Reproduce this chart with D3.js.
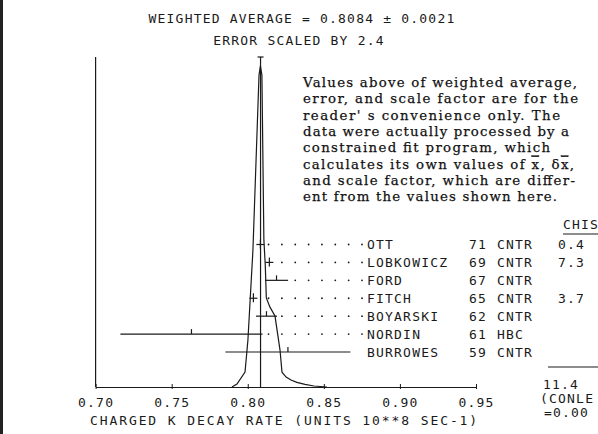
<!DOCTYPE html>
<html><head><meta charset="utf-8">
<script src="https://cdn.jsdelivr.net/npm/d3@7"></script>
<style>
html,body{margin:0;padding:0;background:#fff;}
svg{display:block;}
.mono{font-family:"DejaVu Sans Mono",monospace;font-size:13px;fill:#1a1a1a;letter-spacing:1.2px;}
.serif{font-family:"DejaVu Serif",serif;font-size:13.3px;fill:#111;stroke:#111;stroke-width:0.25px;}
</style></head><body>
<svg id="c" width="598" height="434"></svg>
<script>
// ---- data ----
const experiments = ["OTT","LOBKOWICZ","FORD","FITCH","BOYARSKI","NORDIN","BURROWES"];
const years = ["71","69","67","65","62","61","59"];
const techniques = ["CNTR","CNTR","CNTR","CNTR","CNTR","HBC","CNTR"];
const values = [0.8083,0.8142,0.8189,0.8037,0.8123,0.7630,0.8264];
const errors = [0.0018,0.0024,0.0076,0.0026,0.0069,0.0467,0.0411];
const chisq = ["0.4","7.3","","3.7","","",""];
const chisqTotal = "11.4";
const tickValues = [0.70,0.75,0.80,0.85,0.90,0.95];
const tickLabels = ["0.70","0.75","0.80","0.85","0.90","0.95"];
const weightedAverage = 0.8084;
// ideogram outline: x value, relative height
const ideoX = [0.7896,0.7929,0.7982,0.8001,0.8034,0.8074,0.8083,0.8093,0.8106,0.8115,0.8122,0.8146,0.8179,0.8212,0.8225,0.8252,0.8284,0.8323,0.8376,0.8435,0.8520];
const ideoH = [0,0.009,0.045,0.142,0.415,0.945,0.973,0.945,0.445,0.370,0.27,0.242,0.215,0.112,0.045,0.030,0.021,0.014,0.008,0.003,0];
const titleLines = ["WEIGHTED AVERAGE = 0.8084 \u00b1 0.0021","ERROR SCALED BY 2.4"];
const axisTitle = "CHARGED K DECAY RATE (UNITS 10**8 SEC-1)";
const noteLines = [
 "Values above of weighted average,",
 "error, and scale factor are for the",
 "reader' s convenience only.  The",
 "data were actually processed by a",
 "constrained fit program,  which",
 "CALC",
 "and scale factor, which are differ-",
 "ent from the values shown here."
];
const noteEnds = [577,578,560,569,550,574,575,557];

// ---- drawing ----
const svg = d3.select("#c");
const ink = "#1a1a1a";
svg.append("rect").attr("x",0).attr("y",0).attr("width",3).attr("height",434).attr("fill","#222");

const x = d3.scaleLinear().domain([0.70,0.95]).range([95.6,476]);
const yIdeo = d3.scaleLinear().domain([0,1]).range([387,57]);
const yRow = d3.scalePoint().domain(experiments).range([244.5,352]);
const axisY = 387;

// titles
svg.append("text").attr("class","mono").attr("x",302).attr("y",23).attr("text-anchor","middle").text(titleLines[0]);
svg.append("text").attr("class","mono").attr("x",299).attr("y",45).attr("text-anchor","middle").text(titleLines[1]);

// note paragraph
const noteX = 303;
noteLines.forEach((t,i)=>{
  const el = svg.append("text").attr("class","serif").attr("x",noteX).attr("y",87+i*16.3)
    .attr("textLength",noteEnds[i]-noteX).attr("lengthAdjust","spacing");
  if(t==="CALC"){
    el.append("tspan").text("calculates its own values of ");
    el.append("tspan").style("text-decoration","overline").text("x");
    el.append("tspan").text(", \u03b4");
    el.append("tspan").style("text-decoration","overline").text("x");
    el.append("tspan").text(",");
  } else el.text(t);
});

// left frame line
svg.append("line").attr("x1",x(0.70)).attr("x2",x(0.70)).attr("y1",yIdeo(1)).attr("y2",axisY).attr("stroke",ink).attr("stroke-width",1.2);

// axis
const axis = d3.axisBottom(x).tickValues(tickValues).tickFormat((d,i)=>tickLabels[i]).tickSizeOuter(0);
const gA = svg.append("g").attr("transform",`translate(0,${axisY})`).call(axis);
gA.select(".domain").attr("stroke",ink).attr("stroke-width",1.1);
gA.selectAll(".tick line").attr("y1",-3).attr("y2",2).attr("stroke",ink);
gA.selectAll(".tick text").attr("class","mono").attr("y",20).attr("dy",0).style("font-size","13px").attr("font-family",null).attr("fill",ink);
svg.append("text").attr("class","mono").attr("x",90).attr("y",425).style("letter-spacing","1.9px").text(axisTitle);

// ideogram
const line = d3.line().x(d=>x(d[0])).y(d=>yIdeo(d[1]));
svg.append("path").datum(ideoX.map((v,i)=>[v,ideoH[i]])).attr("d",line)
  .attr("fill","none").attr("stroke",ink).attr("stroke-width",1.2);

// weighted average line with cap
const xm = x(weightedAverage);
svg.append("line").attr("x1",xm).attr("x2",xm).attr("y1",yIdeo(1)).attr("y2",axisY).attr("stroke",ink).attr("stroke-width",1.2);
svg.append("line").attr("x1",xm-3).attr("x2",xm+3).attr("y1",yIdeo(1)).attr("y2",yIdeo(1)).attr("stroke",ink).attr("stroke-width",1.2);

// measurements
const labelX = 367, yearX = 469, techX = 497, chiX = 558;
experiments.forEach((name,i)=>{
  const y = yRow(name);
  const x0 = x(values[i]-errors[i]), x1 = x(values[i]+errors[i]), xv = x(values[i]);
  const plus = (x1-x0)/2 < 6;
  svg.append("line").attr("x1",plus?xv-4:x0).attr("x2",plus?xv+4:x1).attr("y1",y).attr("y2",y).attr("stroke",ink).attr("stroke-width",1.2);
  svg.append("line").attr("x1",xv).attr("x2",xv).attr("y1",y-5).attr("y2",plus?y+4:y).attr("stroke",ink).attr("stroke-width",1.2);
  const right = plus ? xv+4 : x1;
  if(right < labelX-25){
    for(let k=0;k<12;k++){
      const dx = labelX-5-k*13.35;
      if(dx > right+4 && dx > xm+6)
        svg.append("circle").attr("cx",dx).attr("cy",y).attr("r",0.9).attr("fill",ink);
    }
  }
  svg.append("text").attr("class","mono").attr("x",labelX).attr("y",y+4.7).text(name);
  svg.append("text").attr("class","mono").attr("x",yearX).attr("y",y+4.7).text(years[i]);
  svg.append("text").attr("class","mono").attr("x",techX).attr("y",y+4.7).text(techniques[i]);
  if(chisq[i]) svg.append("text").attr("class","mono").attr("x",chiX).attr("y",y+4.7).text(chisq[i]);
});
// chi-square column
svg.append("text").attr("class","mono").attr("x",563).attr("y",229).text("CHIS");
svg.append("line").attr("x1",563).attr("x2",598).attr("y1",234).attr("y2",234).attr("stroke",ink);
svg.append("line").attr("x1",548).attr("x2",598).attr("y1",367).attr("y2",367).attr("stroke",ink);
svg.append("text").attr("class","mono").attr("x",543).attr("y",389).text(chisqTotal);
svg.append("text").attr("class","mono").attr("x",540).attr("y",403).text("(CONLE");
svg.append("text").attr("class","mono").attr("x",544).attr("y",417).text("=0.00");
</script></body></html>
